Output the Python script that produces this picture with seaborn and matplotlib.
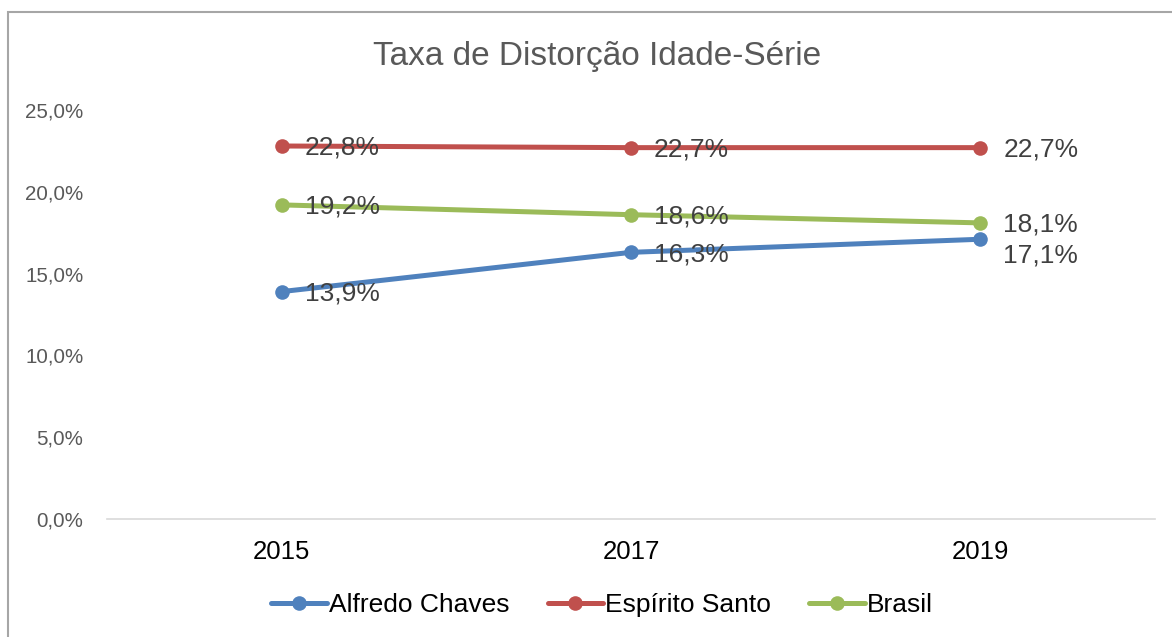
import matplotlib
matplotlib.use("Agg")
import matplotlib.pyplot as plt
import matplotlib.patches as mpatches
from matplotlib.ticker import FuncFormatter
import pandas as pd
import seaborn as sns

# Dados
anos = ["2015", "2017", "2019"]
alfredo_chaves = [0.139, 0.163, 0.171]
espirito_santo = [0.228, 0.227, 0.227]
brasil = [0.192, 0.186, 0.181]

series = {
    "Alfredo Chaves": alfredo_chaves,
    "Espírito Santo": espirito_santo,
    "Brasil": brasil,
}
cores = {"Alfredo Chaves": "#4F81BD", "Espírito Santo": "#C0504D", "Brasil": "#9BBB59"}

df = pd.DataFrame([
    {"Ano": a, "Taxa": v, "Local": nome}
    for nome, vals in series.items()
    for a, v in zip(anos, vals)
])

sns.set_theme(style="white")
plt.rcParams["font.family"] = ["Liberation Sans", "DejaVu Sans"]

fig = plt.figure(figsize=(11.72, 6.37), dpi=100)
ax = fig.add_axes([107 / 1172, 1 - 519 / 637, 1048 / 1172, (519 - 110) / 637])

sns.lineplot(data=df, x="Ano", y="Taxa", hue="Local", palette=cores,
             marker="o", markersize=10.5, markeredgewidth=0, linewidth=3.6,
             ax=ax, legend=False, sort=False)

# rótulos de dados (deslocamento vertical em pixels, estilo Excel)
desloc_y = {("Alfredo Chaves", "2019"): -16}
for nome, vals in series.items():
    for i, (a, v) in enumerate(zip(anos, vals)):
        dy = desloc_y.get((nome, a), -2)
        ax.annotate(f"{v * 100:.1f}%".replace(".", ","), (i, v),
                    xytext=(16.5, dy * 0.72), textcoords="offset points",
                    ha="left", va="center", fontsize=19, color="#404040")

ax.set_xlim(-0.5, 2.5)
ax.set_ylim(0, 0.25)
ax.set_yticks([0, 0.05, 0.10, 0.15, 0.20, 0.25])
ax.yaxis.set_major_formatter(FuncFormatter(lambda v, p: f"{v * 100:.1f}%".replace(".", ",")))
ax.set_xlabel("")
ax.set_ylabel("")
for s in ["top", "right", "left"]:
    ax.spines[s].set_visible(False)
ax.spines["bottom"].set_color("#D9D9D9")
ax.spines["bottom"].set_linewidth(1.2)
ax.tick_params(axis="y", length=0, pad=17, labelsize=14.8, labelcolor="#595959")
ax.tick_params(axis="x", length=0, pad=15, labelsize=18.5, labelcolor="#000000")
ax.grid(False)

fig.text(597 / 1172, 1 - 57 / 637, "Taxa de Distorção Idade-Série",
         ha="center", va="center", fontsize=24, color="#595959")

handles = [plt.Line2D([], [], color=cores[n], linewidth=3.6, marker="o",
                      markersize=10.5, markeredgewidth=0) for n in series]
fig.legend(handles, list(series.keys()), loc="center", ncol=3, frameon=False,
           bbox_to_anchor=(602 / 1172, 1 - 605 / 637), fontsize=19, handlelength=2.1,
           handletextpad=0.08, columnspacing=1.45, labelcolor="#000000")

# moldura do gráfico
fig.patches.append(mpatches.Rectangle((8 / 1172, -0.1), 1.2, 1.1 - 12 / 637,
                                      transform=fig.transFigure, fill=False,
                                      edgecolor="#A6A6A6", linewidth=1.5))

fig.savefig("out.png", dpi=100)
